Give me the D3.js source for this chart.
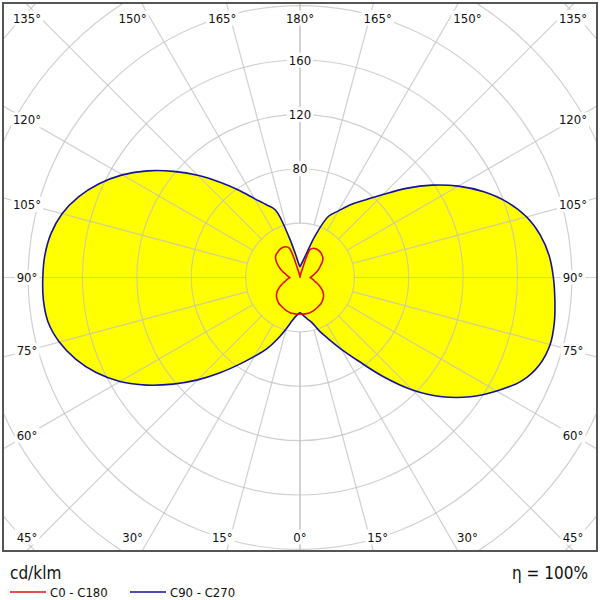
<!DOCTYPE html>
<html><head><meta charset="utf-8">
<script src="https://cdn.jsdelivr.net/npm/d3@7"></script>
<style>body{margin:0;background:#fff}</style>
</head><body>
<svg id="c" width="600" height="600"></svg>
<script>
// Gamma angles (degrees from nadir)
const gammas = [0,5,10,15,20,25,30,35,40,45,50,55,60,65,70,75,80,85,90,95,100,105,110,115,120,125,130,135,140,145,150,155,160,165,170,175,180];
// C90 (right half) and C270 (left half), cd/klm
const c90  = [26,28,31,34.5,42,50,61,75,95,117,136.5,153,167,180,187.5,190.5,190,188.2,186.4,184,179.5,172.5,162.2,149.2,134.5,118.5,102,86.3,74.4,65.5,56.6,49.7,33,18,12.4,9.5,8];
const c270 = [25,28,32,39,48,58,67,78,91.5,106.5,122,138,153,165.5,175.6,183.3,188.2,189.5,189.2,188.4,186,181.2,173.4,163.1,151,136.8,121.5,106.4,91.5,78.4,67,59.2,52.8,30,15.7,10,8];
// C0 (right half) and C180 (left half), cd/klm
const c0   = [27,27,27,27,26.5,26,25.5,25,24.5,23.5,22.5,21,19,16.5,14,11.5,10,8.7,7.4,8.7,10,11.5,13.5,15.5,17.5,20,22,23,23.8,24.2,24.2,23.8,22,6,2,0.5,0];
const c180 = [27,27,27,27,26.5,26,25.5,25,24.5,23.5,22.5,21,19,16.5,14,11.5,10,8.7,7.4,8.7,10,11.5,14,16.5,19,21.5,23.5,24.5,25,25.5,25.5,25,23,6,2,0.5,0];
// Grid
const ringValues = [40,80,120,160,200,240,280];
const ringLabels = [80,120,160];
const angleTicks = [0,15,30,45,60,75,90,105,120,135,150,165,180];
const unitLabel = "cd/klm";
const etaLabel = "\u03b7 = 100%";
const legendNames = ["C0 - C180","C90 - C270"];

const svg = d3.select("#c");
const cx = 300, cy = 277.5;
const fx0 = 3, fy0 = 3, fx1 = 597, fy1 = 551;
const r = d3.scaleLinear().domain([0,160]).range([0,217.5]);
const font = "'DejaVu Sans Condensed','DejaVu Sans',sans-serif";

svg.append("defs").append("clipPath").attr("id","clip")
  .append("rect").attr("x",fx0).attr("y",fy0).attr("width",fx1-fx0).attr("height",fy1-fy0);

const g = svg.append("g").attr("clip-path","url(#clip)");
const plot = g.append("g").attr("transform",`translate(${cx},${cy})`);

function curvePoints(right,left){
  const pts = [];
  gammas.forEach((ga,i)=>{ pts.push([Math.PI - ga*Math.PI/180, r(right[i])]); });
  for(let i=gammas.length-2;i>=1;i--){ pts.push([Math.PI + gammas[i]*Math.PI/180, r(left[i])]); }
  return pts;
}
const line = d3.lineRadial().curve(d3.curveCatmullRomClosed.alpha(0.5));
const bluePts = curvePoints(c90,c270), redPts = curvePoints(c0,c180);

plot.append("path").attr("d",line(bluePts)).attr("fill","#ffff00");
plot.append("path").attr("d",line(redPts)).attr("fill","#ffff00");

// grid
const grid = plot.append("g").attr("stroke","#c0c0c0").attr("stroke-opacity",0.75).attr("fill","none").attr("stroke-width",1.2);
ringValues.forEach(v=>grid.append("circle").attr("r",r(v)));
[-1,1].forEach(side=>{
  angleTicks.forEach(a=>{
    const rad=a*Math.PI/180, dx=side*Math.sin(rad), dy=Math.cos(rad);
    grid.append("line").attr("x1",dx*r(40)).attr("y1",dy*r(40)).attr("x2",dx*600).attr("y2",dy*600);
  });
});

// labels with white backgrounds
function label(parent,x,y,txt,size){
  const gg = parent.append("g");
  const t = gg.append("text").attr("x",x).attr("y",y).attr("text-anchor","middle")
    .attr("dominant-baseline","central").attr("font-family",font).attr("font-size",size).attr("fill","#111").text(txt);
  const b = t.node().getBBox();
  gg.insert("rect","text").attr("x",b.x-2).attr("y",b.y).attr("width",b.width+4).attr("height",b.height).attr("fill","#fff");
}
ringLabels.forEach(v=>label(g,cx,cy-r(v),String(v),13));
const done = new Set();
[-1,1].forEach(side=>{
  angleTicks.forEach(a=>{
    const rad=a*Math.PI/180, dx=side*Math.sin(rad), dy=Math.cos(rad);
    const key = (a===0||a===180)? a : a*side;
    if(done.has(key)) return; done.add(key);
    const t = Math.min(Math.abs(dx)>1e-6?273/Math.abs(dx):1e9, Math.abs(dy)>1e-6?290/Math.abs(dy):1e9);
    const x = Math.max(27,Math.min(573,cx+t*dx)), y = Math.max(18,Math.min(537,cy+t*dy));
    label(g,x,y,a+"\u00b0",13);
  });
});

// curves
plot.append("path").attr("d",line(bluePts)).attr("fill","none").attr("stroke","#12129a").attr("stroke-width",1.6);
plot.append("path").attr("d",line(redPts)).attr("fill","none").attr("stroke","#e01010").attr("stroke-width",1.6);

// frame
svg.append("rect").attr("x",fx0).attr("y",fy0).attr("width",fx1-fx0).attr("height",fy1-fy0)
  .attr("fill","none").attr("stroke","#555").attr("stroke-width",2);

// bottom texts
svg.append("text").attr("x",10).attr("y",579).attr("font-family",font).attr("font-size",17).attr("fill","#111").text(unitLabel);
svg.append("text").attr("x",588).attr("y",579).attr("text-anchor","end").attr("font-family",font).attr("font-size",17).attr("fill","#111").text(etaLabel);
const legColors = ["#e01010","#12129a"];
const legX = [10,130];
legendNames.forEach((n,i)=>{
  svg.append("line").attr("x1",legX[i]).attr("x2",legX[i]+36).attr("y1",592).attr("y2",592).attr("stroke",legColors[i]).attr("stroke-width",1.5);
  svg.append("text").attr("x",legX[i]+40).attr("y",592).attr("dominant-baseline","central").attr("font-family",font).attr("font-size",13).attr("fill","#111").text(n);
});
</script>
</body></html>
